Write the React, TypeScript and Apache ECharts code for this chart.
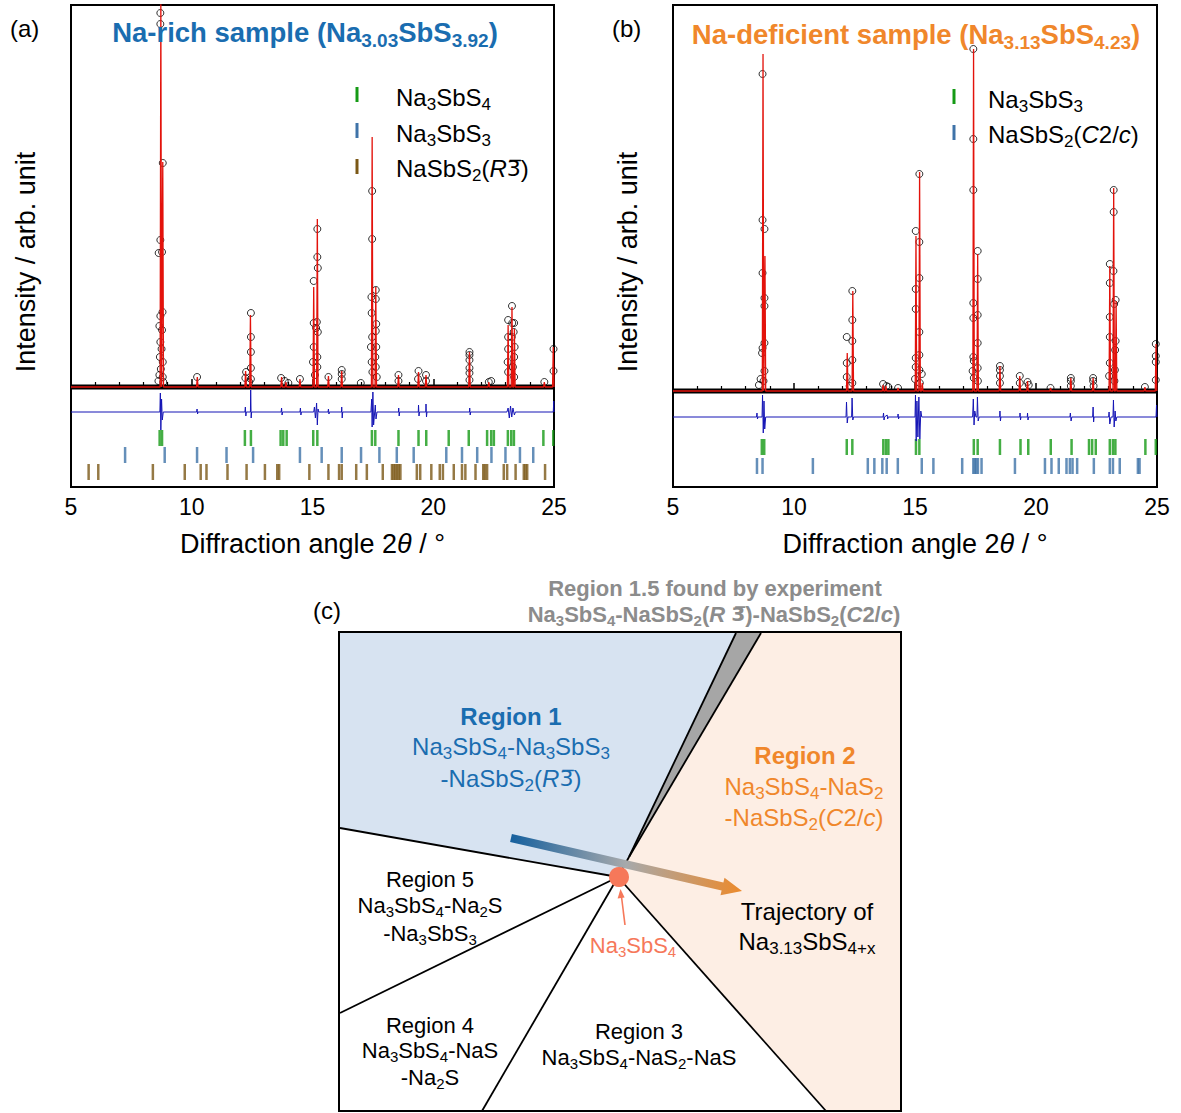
import React, { useEffect, useRef } from 'react';
import * as echarts from 'echarts';

const FF = '"Liberation Sans", Arial, Helvetica, sans-serif';

// ---------- Panel (a): Na-rich sample ----------
// calculated peaks [2theta, intensity above background]
const peaksA = [[8.72, 390], [8.80, 225], [10.23, 10], [12.23, 16], [12.43, 72], [13.72, 10], [13.9, 5], [14.48, 8], [15.05, 100], [15.2, 168], [15.66, 11], [16.21, 16], [17.47, 250], [17.62, 100], [18.56, 12], [19.39, 15], [19.70, 12], [21.5, 35], [22.3, 5], [23.1, 62], [23.26, 80], [23.36, 58], [24.6, 5], [24.97, 40]];
// observed points [2theta, intensity]
const obsA = [
  [8.70, 374], [8.70, 363], [8.70, 147], [8.63, 134], [8.77, 135], [8.70, 71], [8.79, 75], [8.66, 61], [8.77, 57], [8.70, 45], [8.75, 38], [8.68, 30], [8.80, 25], [8.72, 18], [8.66, 12], [8.80, 10], [8.80, 224], [8.82, 5], [8.62, 6],
  [10.22, 10],
  [12.25, 15], [12.22, 9], [12.45, 74], [12.45, 50], [12.45, 35], [12.45, 19], [12.45, 8], [12.38, 5],
  [13.7, 9], [13.85, 6], [14.0, 4], [14.48, 8],
  [15.05, 106], [15.05, 64], [15.05, 40], [15.02, 25], [15.2, 158], [15.2, 130], [15.22, 119], [15.18, 65], [15.15, 59], [15.22, 55], [15.2, 30], [15.2, 20], [15.1, 12],
  [15.66, 10], [16.21, 17], [16.21, 13], [16.21, 8], [17.0, 4],
  [17.47, 196], [17.47, 148], [17.44, 90], [17.45, 74], [17.47, 50], [17.42, 40], [17.45, 25], [17.48, 15], [17.62, 97], [17.62, 88], [17.64, 63], [17.62, 56], [17.64, 40], [17.6, 30], [17.62, 20], [17.66, 10],
  [18.56, 12], [18.56, 6], [19.39, 16], [19.37, 8], [19.70, 12], [19.70, 6],
  [21.5, 35], [21.5, 32], [21.5, 27], [21.5, 19], [21.5, 14], [21.5, 7],
  [22.3, 5], [22.4, 6],
  [23.1, 67], [23.1, 50], [23.1, 38], [23.08, 25], [23.1, 15], [23.26, 81], [23.27, 64], [23.25, 50], [23.35, 64], [23.33, 55], [23.37, 40], [23.35, 30], [23.3, 20], [23.35, 10],
  [24.6, 5], [24.98, 38], [24.98, 16],
];
// difference curve (obs - calc), drawn with an offset
const diffA = [[5, -25], [8.68, -25], [8.70, -6], [8.72, -43], [8.75, -12], [8.78, -33], [8.82, -25], [10.2, -25], [10.22, -22], [10.24, -27], [10.26, -25], [12.2, -25], [12.22, -20], [12.24, -29], [12.26, -25], [12.43, -25], [12.44, -3], [12.46, -31], [12.48, -25], [13.7, -25], [13.72, -21], [13.74, -28], [13.76, -25], [14.48, -25], [14.5, -21], [14.52, -28], [14.54, -25], [15.05, -25], [15.08, -20], [15.12, -31], [15.17, -16], [15.2, -38], [15.23, -22], [15.26, -25], [15.64, -25], [15.66, -22], [15.68, -27], [15.7, -25], [16.2, -25], [16.21, -20], [16.23, -31], [16.25, -25], [17.42, -25], [17.45, -12], [17.47, -40], [17.5, -5], [17.53, -38], [17.6, -18], [17.63, -32], [17.67, -25], [18.56, -25], [18.57, -21], [18.59, -29], [18.61, -25], [19.38, -25], [19.39, -18], [19.41, -29], [19.43, -25], [19.69, -25], [19.7, -17], [19.72, -30], [19.74, -25], [21.5, -25], [21.51, -21], [21.53, -28], [21.55, -25], [23.05, -25], [23.1, -21], [23.15, -31], [23.2, -19], [23.25, -30], [23.3, -21], [23.36, -28], [23.4, -25], [24.97, -25], [24.99, -14], [25, -25]];
const ticksA_Na3SbS4 = [8.67, 8.77, 12.2, 12.45, 13.68, 13.79, 13.93, 15.03, 15.2, 17.46, 17.6, 18.56, 19.39, 19.71, 20.64, 21.47, 22.23, 22.4, 22.51, 23.09, 23.23, 23.34, 24.56, 24.97];
const ticksA_Na3SbS3 = [7.24, 8.88, 10.22, 11.44, 12.54, 14.48, 15.38, 16.21, 17.01, 17.77, 18.49, 19.19, 20.54, 21.19, 21.82, 22.41, 22.99, 23.59, 24.14];
const ticksA_NaSbS2R = [5.73, 6.13, 8.39, 9.71, 10.37, 10.61, 11.48, 12.27, 13.03, 13.54, 13.62, 14.87, 15.66, 16.1, 16.21, 16.81, 17.25, 17.91, 18.29, 18.36, 18.43, 18.5, 18.57, 18.64, 19.32, 19.46, 19.92, 20.27, 20.4, 20.85, 21.19, 21.33, 21.75, 22.07, 22.14, 22.23, 22.92, 23.06, 23.41, 23.75, 23.82, 23.89, 24.63];

// ---------- Panel (b): Na-deficient sample ----------
const peaksB = [[8.72, 337], [8.80, 135], [12.2, 38], [12.43, 100], [13.68, 6], [13.8, 5], [14.3, 3], [15.04, 155], [15.19, 219], [15.3, 8], [17.42, 342], [17.59, 137], [18.51, 25], [19.33, 15], [19.65, 10], [20.6, 3], [21.44, 13], [22.36, 13], [23.05, 125], [23.21, 203], [23.31, 90], [24.5, 4], [24.96, 47]];
const obsB = [
  [8.70, 317], [8.70, 171], [8.78, 162], [8.70, 118], [8.78, 93], [8.78, 85], [8.78, 48], [8.70, 43], [8.68, 38], [8.78, 20], [8.62, 12], [8.74, 10], [8.55, 6],
  [12.18, 54], [12.18, 28], [12.18, 14], [12.41, 100], [12.41, 71], [12.41, 50], [12.41, 31], [12.41, 8], [12.3, 5],
  [13.68, 7], [13.82, 5], [13.9, 4], [14.3, 3],
  [15.03, 160], [15.03, 102], [15.03, 82], [15.03, 33], [15.03, 24], [15.0, 12], [15.18, 217], [15.18, 149], [15.18, 113], [15.18, 59], [15.18, 36], [15.18, 21], [15.28, 17], [15.2, 8],
  [17.41, 342], [17.41, 252], [17.41, 201], [17.41, 88], [17.41, 73], [17.41, 34], [17.43, 30], [17.43, 13], [17.38, 20], [17.59, 140], [17.59, 112], [17.59, 76], [17.59, 48], [17.59, 23], [17.6, 10],
  [18.51, 25], [18.51, 21], [18.51, 15], [18.51, 8],
  [19.33, 15], [19.33, 8], [19.65, 9], [19.7, 6], [20.6, 3],
  [21.44, 13], [21.44, 10], [21.44, 5], [22.36, 13], [22.36, 10], [22.38, 5],
  [23.05, 127], [23.05, 108], [23.05, 74], [23.05, 54], [23.05, 28], [23.02, 15], [23.21, 201], [23.21, 179], [23.2, 120], [23.23, 87], [23.29, 91], [23.29, 50], [23.27, 41], [23.26, 21], [23.24, 10],
  [24.5, 4], [24.95, 47], [24.95, 35], [24.95, 29], [24.95, 11],
];
const diffB = [[5, -26], [8.45, -26], [8.47, -22], [8.49, -28], [8.51, -26], [8.68, -26], [8.70, -4], [8.73, -42], [8.76, -10], [8.79, -38], [8.83, -26], [12.15, -26], [12.17, -11], [12.2, -32], [12.23, -26], [12.38, -26], [12.4, -7], [12.43, -29], [12.46, -26], [13.68, -26], [13.7, -22], [13.72, -29], [13.74, -26], [13.85, -24], [13.87, -28], [13.89, -26], [14.29, -26], [14.3, -23], [14.32, -28], [14.34, -26], [15.0, -26], [15.02, -4], [15.05, -50], [15.08, -10], [15.12, -46], [15.16, -6], [15.2, -48], [15.24, -20], [15.28, -26], [17.38, -26], [17.41, -8], [17.44, -34], [17.47, -20], [17.52, -26], [17.56, -26], [17.58, -6], [17.61, -30], [17.65, -26], [18.5, -26], [18.51, -20], [18.53, -30], [18.55, -26], [19.33, -26], [19.34, -22], [19.36, -29], [19.38, -26], [19.64, -26], [19.65, -22], [19.67, -29], [19.69, -26], [21.4, -26], [21.42, -22], [21.45, -30], [21.48, -26], [22.34, -26], [22.36, -16], [22.38, -31], [22.4, -26], [23.0, -26], [23.02, -21], [23.05, -33], [23.1, -26], [23.18, -26], [23.2, -9], [23.23, -36], [23.27, -20], [23.3, -30], [23.34, -26], [24.96, -26], [24.98, -14], [25, -26]];
const ticksB_Na3SbS3 = [8.67, 8.77, 12.18, 12.41, 13.69, 13.80, 13.90, 15.04, 15.18, 17.43, 17.59, 18.51, 19.36, 19.68, 20.61, 21.47, 22.19, 22.32, 22.47, 23.05, 23.18, 23.28, 24.52, 24.95];
const ticksB_NaSbS2C = [8.47, 8.70, 10.78, 13.05, 13.32, 13.65, 13.83, 14.29, 15.28, 15.76, 16.95, 17.41, 17.47, 17.53, 17.6, 17.75, 19.13, 20.37, 20.64, 20.94, 21.26, 21.4, 21.51, 21.7, 22.39, 23.05, 23.18, 23.46, 24.21, 24.28];

const X_MIN = 5, X_MAX = 25, X_STEP = 5;

// colours
const C_RED = '#e3120b';
const C_DIFF = '#1515b5';
const C_GREEN = '#159a15';
const C_BLUE = '#3f73a8';
const C_BROWN = '#7b5816';
const C_TBLUE = '#1a6db0';
const C_TORANGE = '#f0872b';
const C_SALMON = '#f6785a';

function profile(peaks: number[][], hw: number) {
  const sorted = [...peaks].sort((a, b) => a[0] - b[0]);
  const pts: number[][] = [[X_MIN, 0]];
  for (const [p, h] of sorted) pts.push([p - hw, 0], [p, h], [p + hw, 0]);
  pts.push([X_MAX, 0]);
  return pts;
}

function R(size: number, color: string, bold = false, subRatio = 0.7) {
  const w = bold ? 'bold' : 'normal';
  const L = Math.round(size * 1.2);
  const ss = Math.round(size * subRatio);
  return {
    m: { fontSize: size, lineHeight: L, fill: color, color, fontWeight: w, fontFamily: FF },
    i: { fontSize: size, lineHeight: L, fill: color, color, fontWeight: w, fontStyle: 'italic', fontFamily: FF },
    o: { fontSize: size * 0.92, lineHeight: L, fill: color, color, fontWeight: w, fontFamily: '"DejaVu Sans", sans-serif' },
    s: { fontSize: ss, lineHeight: ss, verticalAlign: 'top', padding: [Math.round(size * 0.56), 0, 0, 0], fill: color, color, fontWeight: w, fontFamily: FF },
  };
}

function T(x: number, y: number, text: string, size: number, color: string, bold = false, align = 'center', rotation = 0) {
  return {
    type: 'text', x, y, rotation, z: 50,
    style: { text, rich: R(size, color, bold), align, verticalAlign: 'middle' },
  };
}

function L(x1: number, y1: number, x2: number, y2: number, color = '#000', w = 1.8) {
  return { type: 'line', z: 20, shape: { x1, y1, x2, y2 }, style: { stroke: color, lineWidth: w } };
}

const BAR3 = '{o|3\u0305}';

const App = () => {
  const ref = useRef<HTMLDivElement>(null);
  useEffect(() => {
    if (!ref.current) return;
    const chart = echarts.init(ref.current, null, { renderer: 'svg' });

    const tickSeries = (data: number[], level: number, color: string, gi: number) => ({
      type: 'scatter', xAxisIndex: gi, yAxisIndex: gi, symbol: 'rect', symbolSize: [2.5, 16],
      itemStyle: { color }, data: data.map((p) => [p, level]), silent: true, z: 3,
    });
    const panelSeries = (gi: number, peaks: number[][], obs: number[][], diff: number[][]) => [
      { type: 'line', xAxisIndex: gi, yAxisIndex: gi, data: [[X_MIN, 0], [X_MAX, 0]], showSymbol: false, lineStyle: { color: '#000', width: 5 }, z: 2, silent: true },
      { type: 'scatter', xAxisIndex: gi, yAxisIndex: gi, data: obs, symbol: 'circle', symbolSize: 7, itemStyle: { color: 'rgba(0,0,0,0)', borderColor: '#000', borderWidth: 1 }, z: 3, silent: true },
      { type: 'line', xAxisIndex: gi, yAxisIndex: gi, data: profile(peaks, 0.03), showSymbol: false, lineStyle: { color: C_RED, width: 1.3 }, z: 4, silent: true },
      { type: 'line', xAxisIndex: gi, yAxisIndex: gi, data: diff, showSymbol: false, lineStyle: { color: C_DIFF, width: 1 }, z: 4, silent: true },
    ];

    const axisName = '{m|Diffraction angle 2}{i|θ}{m| / °}';
    const xAxes = [0, 1].map((gi) => ({
      type: 'value', gridIndex: gi, min: X_MIN, max: X_MAX, interval: X_STEP,
      axisLine: { show: true, lineStyle: { color: '#000', width: 2 } },
      axisTick: { show: true, inside: true, length: 8, lineStyle: { color: '#000', width: 1.5 } },
      minorTick: { show: true, splitNumber: 5, length: 5, lineStyle: { color: '#000', width: 1.2 } },
      splitLine: { show: false },
      axisLabel: { fontSize: 23, color: '#000', margin: 8, fontFamily: FF },
      name: axisName, nameLocation: 'middle', nameGap: 43,
      nameTextStyle: {
        fontSize: 27, color: '#000', fontFamily: FF,
        rich: {
          m: { fontSize: 27, color: '#000', fontFamily: FF },
          i: { fontSize: 27, color: '#000', fontFamily: FF, fontStyle: 'italic' },
        },
      },
    }));

    const arrowPts = [[511.9, 834.1], [723.4, 882.6], [724.5, 877.7], [742, 891], [720.5, 895.3], [721.6, 890.4], [510.1, 841.9]];

    const graphic: any[] = [
      // panel labels
      T(10, 28, '{m|(a)}', 24, '#000', false, 'left'),
      T(612, 28, '{m|(b)}', 24, '#000', false, 'left'),
      T(313, 610, '{m|(c)}', 24, '#000', false, 'left'),
      // y labels
      T(26, 262, '{m|Intensity / arb. unit}', 27, '#000', false, 'center', Math.PI / 2),
      T(628, 262, '{m|Intensity / arb. unit}', 27, '#000', false, 'center', Math.PI / 2),
      // titles
      T(305, 32, '{m|Na-rich sample (Na}{s|3.03}{m|SbS}{s|3.92}{m|)}', 27.5, C_TBLUE, true),
      T(916, 34, '{m|Na-deficient sample (Na}{s|3.13}{m|SbS}{s|4.23}{m|)}', 27.5, C_TORANGE, true),
      // legend (a)
      { type: 'rect', z: 50, shape: { x: 355.5, y: 87, width: 3, height: 15 }, style: { fill: C_GREEN } },
      { type: 'rect', z: 50, shape: { x: 355.5, y: 123, width: 3, height: 15 }, style: { fill: C_BLUE } },
      { type: 'rect', z: 50, shape: { x: 355.5, y: 159, width: 3, height: 15 }, style: { fill: C_BROWN } },
      T(396, 97, '{m|Na}{s|3}{m|SbS}{s|4}', 24, '#000', false, 'left'),
      T(396, 133, '{m|Na}{s|3}{m|SbS}{s|3}', 24, '#000', false, 'left'),
      T(396, 168, '{m|NaSbS}{s|2}{m|(}{i|R}' + BAR3 + '{m|)}', 24, '#000', false, 'left'),
      // legend (b)
      { type: 'rect', z: 50, shape: { x: 952.5, y: 89, width: 3, height: 15 }, style: { fill: C_GREEN } },
      { type: 'rect', z: 50, shape: { x: 952.5, y: 125, width: 3, height: 15 }, style: { fill: C_BLUE } },
      T(988, 99, '{m|Na}{s|3}{m|SbS}{s|3}', 24, '#000', false, 'left'),
      T(988, 134, '{m|NaSbS}{s|2}{m|(}{i|C}{m|2/}{i|c}{m|)}', 24, '#000', false, 'left'),

      // ---- panel (c) ----
      { type: 'polygon', z: 10, shape: { points: [[340, 633], [736, 633], [629, 857], [618, 877], [340, 828]] }, style: { fill: '#d7e3f1' } },
      { type: 'polygon', z: 10, shape: { points: [[736, 633], [761, 633], [629, 857]] }, style: { fill: '#a6a6a6' } },
      { type: 'polygon', z: 10, shape: { points: [[761, 633], [901, 633], [901, 1111], [826, 1111], [618, 877], [629, 857]] }, style: { fill: '#fdeee4' } },
      L(340, 828, 618, 877),
      L(629, 857, 736, 633),
      L(629, 857, 761, 633),
      L(629, 857, 618, 877),
      L(618, 877, 340, 1013),
      L(618, 877, 482, 1111),
      L(618, 877, 826, 1111),
      { type: 'rect', z: 21, shape: { x: 339, y: 632, width: 562, height: 479 }, style: { fill: 'none', stroke: '#000', lineWidth: 2 } },
      // trajectory arrow
      {
        type: 'polygon', z: 30, shape: { points: arrowPts },
        style: {
          fill: new echarts.graphic.LinearGradient(0, 0, 1, 0, [
            { offset: 0, color: '#15609e' },
            { offset: 0.5, color: '#a7a9ab' },
            { offset: 1, color: '#ec8a2c' },
          ]),
        },
      },
      // Na3SbS4 point
      { type: 'circle', z: 31, shape: { cx: 619, cy: 877, r: 10 }, style: { fill: C_SALMON } },
      L(625, 925, 621.3, 895, C_SALMON, 1.6),
      { type: 'polygon', z: 31, shape: { points: [[620.5, 889], [617.6, 898.5], [624.6, 897.6]] }, style: { fill: C_SALMON } },

      // texts (c)
      T(715, 588, '{m|Region 1.5 found by experiment}', 22, '#8c8c8c', true),
      T(714, 614, '{m|Na}{s|3}{m|SbS}{s|4}{m|-NaSbS}{s|2}{m|(}{i|R}{m| }' + BAR3 + '{m|)-NaSbS}{s|2}{m|(}{i|C}{m|2/}{i|c}{m|)}', 22, '#8c8c8c', true),
      T(511, 716, '{m|Region 1}', 24, C_TBLUE, true),
      T(511, 746, '{m|Na}{s|3}{m|SbS}{s|4}{m|-Na}{s|3}{m|SbS}{s|3}', 24, C_TBLUE),
      T(511, 778, '{m|-NaSbS}{s|2}{m|(}{i|R}' + BAR3 + '{m|)}', 24, C_TBLUE),
      T(805, 755, '{m|Region 2}', 24, C_TORANGE, true),
      T(804, 786, '{m|Na}{s|3}{m|SbS}{s|4}{m|-NaS}{s|2}', 24, C_TORANGE),
      T(804, 817, '{m|-NaSbS}{s|2}{m|(}{i|C}{m|2/}{i|c}{m|)}', 24, C_TORANGE),
      T(430, 879, '{m|Region 5}', 22, '#000'),
      T(430, 905, '{m|Na}{s|3}{m|SbS}{s|4}{m|-Na}{s|2}{m|S}', 22, '#000'),
      T(430, 933, '{m|-Na}{s|3}{m|SbS}{s|3}', 22, '#000'),
      T(807, 911, '{m|Trajectory of}', 24, '#000'),
      T(807, 941, '{m|Na}{s|3.13}{m|SbS}{s|4+x}', 24, '#000'),
      T(633, 945, '{m|Na}{s|3}{m|SbS}{s|4}', 22, C_SALMON),
      T(430, 1025, '{m|Region 4}', 22, '#000'),
      T(430, 1050, '{m|Na}{s|3}{m|SbS}{s|4}{m|-NaS}', 22, '#000'),
      T(430, 1077, '{m|-Na}{s|2}{m|S}', 22, '#000'),
      T(639, 1031, '{m|Region 3}', 22, '#000'),
      T(639, 1057, '{m|Na}{s|3}{m|SbS}{s|4}{m|-NaS}{s|2}{m|-NaS}', 22, '#000'),
    ];

    chart.setOption({
      animation: false,
      backgroundColor: '#fff',
      textStyle: { fontFamily: FF },
      grid: [
        { left: 71, top: 5, width: 483, height: 482, show: true, borderColor: '#000', borderWidth: 2, containLabel: false, outerBoundsMode: 'none' },
        { left: 673, top: 5, width: 484, height: 482, show: true, borderColor: '#000', borderWidth: 2, containLabel: false, outerBoundsMode: 'none' },
      ],
      xAxis: xAxes,
      yAxis: [
        { type: 'value', gridIndex: 0, min: -100, max: 382, show: false, splitLine: { show: false } },
        { type: 'value', gridIndex: 1, min: -96, max: 386, show: false, splitLine: { show: false } },
      ],
      series: [
        ...panelSeries(0, peaksA, obsA, diffA),
        tickSeries(ticksA_Na3SbS4, -51, C_GREEN, 0),
        tickSeries(ticksA_Na3SbS3, -68, C_BLUE, 0),
        tickSeries(ticksA_NaSbS2R, -85, C_BROWN, 0),
        ...panelSeries(1, peaksB, obsB, diffB),
        tickSeries(ticksB_Na3SbS3, -56, C_GREEN, 1),
        tickSeries(ticksB_NaSbS2C, -75, C_BLUE, 1),
      ],
      graphic,
    });
    return () => chart.dispose();
  }, []);
  return <div ref={ref} style={{ position: 'absolute', left: 0, top: 0, width: 1181, height: 1113 }} />;
};

export default App;
